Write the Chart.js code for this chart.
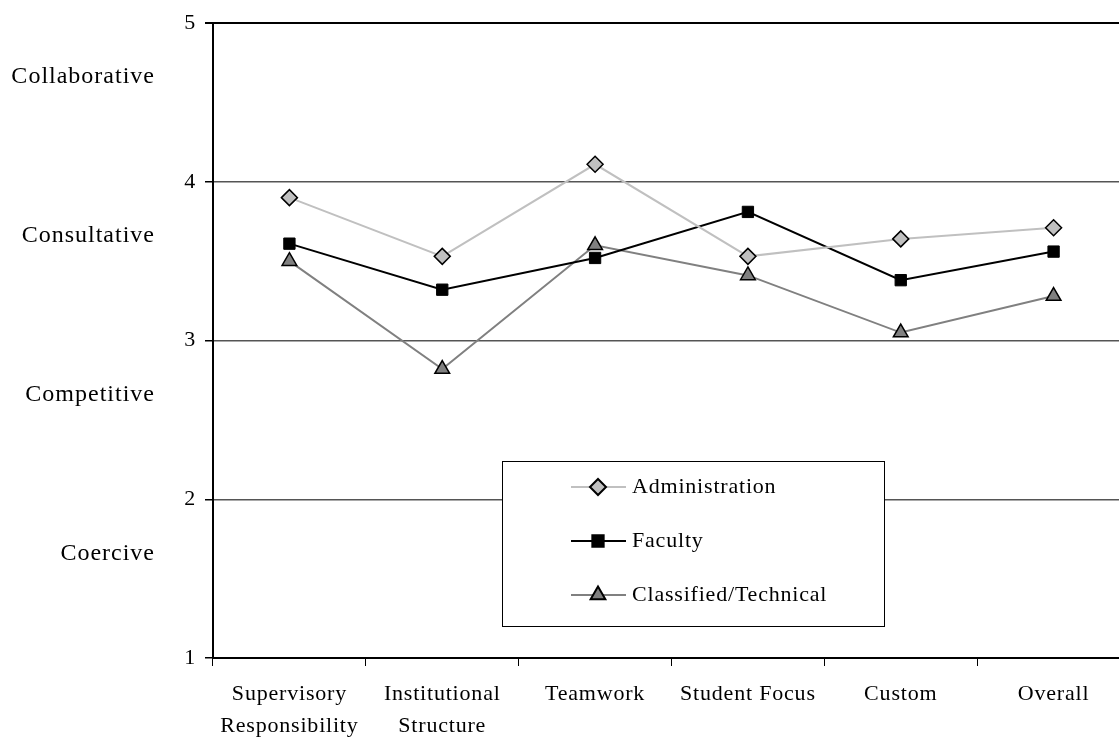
<!DOCTYPE html>
<html>
<head>
<meta charset="utf-8">
<script src="https://cdn.jsdelivr.net/npm/chart.js@4"></script>
<style>
  html, body { margin: 0; padding: 0; background: #fff; overflow: hidden; width: 1119px; height: 740px; }
  canvas { display: block; }
</style>
</head>
<body>
<canvas id="cultureChart" width="1140" height="740"></canvas>
<script>
// categories and series
const categories = [['Supervisory', 'Responsibility'], ['Institutional', 'Structure'], 'Teamwork', 'Student Focus', 'Custom', 'Overall'];
const administration = [3.90, 3.53, 4.11, 3.53, 3.64, 3.71];
const faculty = [3.61, 3.32, 3.52, 3.81, 3.38, 3.56];
const classified = [3.50, 2.82, 3.60, 3.41, 3.05, 3.28];
const yTicks = [1, 2, 3, 4, 5];
const styleNames = ['Collaborative', 'Consultative', 'Competitive', 'Coercive'];
const styleLevels = [4.66, 3.66, 2.66, 1.66];

const FONT = '"Liberation Serif", "Times New Roman", serif';

// slightly wider letter spacing, like the original rendering
const spacing = {
    id: 'spacing',
    beforeDraw(chart) {
        chart.ctx.letterSpacing = '0.8px';
    }
};

// labels on the left of the y axis (Collaborative, ...)
const styleLabels = {
    id: 'styleLabels',
    afterDraw(chart) {
        const ctx = chart.ctx;
        const y = chart.scales.y;
        ctx.save();
        ctx.font = '24px ' + FONT;
        ctx.letterSpacing = '1px';
        ctx.fillStyle = '#000';
        ctx.textAlign = 'right';
        ctx.textBaseline = 'middle';
        styleNames.forEach((name, i) => {
            ctx.fillText(name, 155, y.getPixelForValue(styleLevels[i]));
        });
        ctx.restore();
    }
};

// boxed legend inside the plot
const boxLegend = {
    id: 'boxLegend',
    afterDraw(chart) {
        const ctx = chart.ctx;
        const left = 502, top = 461, w = 382, h = 165;
        ctx.save();
        ctx.fillStyle = '#fff';
        ctx.fillRect(left, top, w, h);
        ctx.strokeStyle = '#000';
        ctx.lineWidth = 1;
        ctx.strokeRect(left + 0.5, top + 0.5, w, h);
        ctx.font = '22px ' + FONT;
        ctx.letterSpacing = '0.8px';
        ctx.textBaseline = 'middle';
        chart.data.datasets.forEach((ds, i) => {
            const cy = top + 26 + i * 54;
            ctx.strokeStyle = ds.borderColor;
            ctx.lineWidth = ds.borderWidth;
            ctx.beginPath();
            ctx.moveTo(571, cy);
            ctx.lineTo(626, cy);
            ctx.stroke();
            ctx.fillStyle = ds.pointBackgroundColor;
            ctx.strokeStyle = ds.pointBorderColor;
            Chart.helpers.drawPoint(ctx, {
                pointStyle: ds.pointStyle,
                radius: ds.pointRadius,
                borderWidth: ds.pointBorderWidth,
                rotation: 0
            }, 598, cy);
            ctx.fillStyle = '#000';
            ctx.fillText(ds.label, 632, cy);
        });
        ctx.restore();
    }
};

new Chart(document.getElementById('cultureChart').getContext('2d'), {
    type: 'line',
    data: {
        labels: categories,
        datasets: [{
            label: 'Administration',
            data: administration,
            borderColor: '#c0c0c0',
            borderWidth: 2,
            pointStyle: 'rectRot',
            pointRadius: 8,
            pointBackgroundColor: '#c0c0c0',
            pointBorderColor: '#000',
            pointBorderWidth: 1.5
        }, {
            label: 'Faculty',
            data: faculty,
            borderColor: '#000',
            borderWidth: 2,
            pointStyle: 'rect',
            pointRadius: 8,
            pointBackgroundColor: '#000',
            pointBorderColor: '#000',
            pointBorderWidth: 1
        }, {
            label: 'Classified/Technical',
            data: classified,
            borderColor: '#808080',
            borderWidth: 2,
            pointStyle: 'triangle',
            pointRadius: 8.5,
            pointBackgroundColor: '#808080',
            pointBorderColor: '#000',
            pointBorderWidth: 1.5
        }]
    },
    options: {
        responsive: false,
        animation: false,
        devicePixelRatio: 1,
        layout: { padding: { top: 23, right: 0, bottom: 0, left: 0 } },
        plugins: {
            legend: { display: false },
            tooltip: { enabled: false }
        },
        scales: {
            x: {
                offset: true,
                grid: {
                    offset: true,
                    drawOnChartArea: false,
                    drawTicks: true,
                    tickLength: 8,
                    color: '#000'
                },
                border: { color: '#000', width: 2 },
                ticks: {
                    color: '#000',
                    font: { family: FONT, size: 22, lineHeight: 1.45 },
                    padding: 12,
                    maxRotation: 0,
                    autoSkip: false
                },
                afterFit(scale) { scale.height = 82; }
            },
            y: {
                min: 1,
                max: 5,
                afterBuildTicks(scale) { scale.ticks = yTicks.map(v => ({ value: v })); },
                grid: {
                    color: ctx => ctx.tick && ctx.tick.value === 5 ? '#000' : '#555',
                    lineWidth: ctx => ctx.tick && ctx.tick.value === 5 ? 2 : 1.5,
                    tickLength: 8,
                    tickColor: '#000'
                },
                border: { color: '#000', width: 2 },
                ticks: {
                    color: '#000',
                    font: { family: FONT, size: 22 },
                    padding: 9
                },
                afterFit(scale) { scale.width = 213; }
            }
        }
    },
    plugins: [spacing, styleLabels, boxLegend]
});
</script>
</body>
</html>
